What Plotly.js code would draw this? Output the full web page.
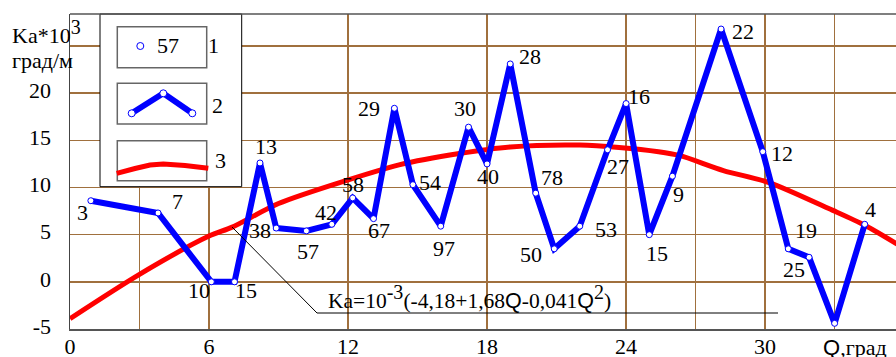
<!DOCTYPE html>
<html>
<head>
<meta charset="utf-8">
<script src="https://cdn.plot.ly/plotly-3.0.1.min.js"></script>
<style>
  html, body { margin: 0; padding: 0; background: #fff; }
  #chart { width: 896px; height: 357px; }
</style>
</head>
<body>
<div id="chart"></div>
<script>
// Measured points: angle Q (deg), coefficient Ka (x10^-3 deg/m), point numbers
const pointQ  = [0.9, 3.8, 6.1, 7.1, 8.2, 8.9, 10.2, 11.3, 12.2, 13.1,
                 14.0, 14.8, 16.0, 17.2, 18.0, 19.0, 20.1, 20.9, 22.0, 23.2,
                 24.0, 25.0, 26.0, 28.1, 29.9, 31.0, 31.9, 33.0, 34.3];
const pointKa = [8.6, 7.3, 0, 0, 12.6, 5.7, 5.4, 6.1, 8.9, 6.7,
                 18.4, 10.3, 5.9, 16.4, 12.5, 23.1, 9.4, 3.5, 5.9, 14.0,
                 18.9, 5.0, 11.2, 26.8, 13.8, 3.5, 2.6, -4.4, 6.1];
const pointNo = ['3', '7', '10', '15', '13', '38', '57', '42', '58', '67',
                 '29', '54', '97', '30', '40', '28', '78', '50', '53', '27',
                 '16', '15', '9', '22', '12', '25', '19', '', '4'];

// Regression curve Ka(Q)
const fitQ  = [0, 3, 6, 7, 9, 12, 14.2, 16.8, 19, 22, 23.7, 25.4, 26.3, 28.2, 30.2, 32.9, 34.3, 35.7];
const fitKa = [-3.9, 0.8, 4.85, 5.8, 8.3, 10.8, 12.4, 13.6, 14.3, 14.5, 14.25, 13.8, 13.4, 11.8, 10.5, 7.6, 6.0, 4.0];

// Axis ticks
const xGridVals  = [0, 3, 6, 12, 18, 24, 27, 30, 33];
const xTickText  = ['0', '', '6', '12', '18', '24', '', '30', ''];
const yGridVals  = [-5, 0, 5, 10, 15, 20, 25];
const yTickText  = ['-5', '0', '5', '10', '15', '20', ''];

// Label placement around each point, in px: [right, down]
const labelShift = [[-8,12],[19,-11],[-12,9],[11,9],[6,-16],[-16,2],[2,21],[-6,-12],[0,-13],[5,12],
                    [-25,0],[17,-2],[3,22],[-4,-19],[1,13],[20,-7],[16,-16],[-23,6],[26,3],[10,17],
                    [13,-7],[8,19],[6,18],[22,2],[19,2],[6,21],[-3,-27],[0,0],[6,-15]];

const SERIF = 'Liberation Serif';
const SANS = 'Liberation Sans';
const BLUE = '#0000ff', RED = '#ff0000', GRID = 'rgb(160,112,62)';

// plot frame in px
const PL = 70, PT = 14, PW = 826, PH = 315;
const fx = p => (p - PL) / PW;
const fy = p => (PT + PH - p) / PH;

const traces = [
  { x: fitQ, y: fitKa, type: 'scatter', mode: 'lines',
    line: { color: RED, width: 5, shape: 'spline', smoothing: 0.8 }, hoverinfo: 'skip' },
  { x: pointQ, y: pointKa, type: 'scatter', mode: 'lines+markers',
    line: { color: BLUE, width: 6 },
    marker: { size: 6, color: '#fff', line: { color: BLUE, width: 1 } }, hoverinfo: 'skip' }
];

const annotations = pointNo.map((t, i) => ({
  x: pointQ[i], y: pointKa[i], xref: 'x', yref: 'y', text: t, showarrow: false,
  xshift: labelShift[i][0], yshift: -labelShift[i][1],
  xanchor: 'center', yanchor: 'middle', font: { family: SERIF, size: 22, color: '#000' }
})).filter(a => a.text !== '');

function txt(text, px, py, anchor, size) {
  return { text: text, x: fx(px), y: fy(py), xref: 'paper', yref: 'paper', showarrow: false,
           xanchor: anchor || 'center', yanchor: 'middle',
           font: { family: SERIF, size: size || 21, color: '#000' } };
}
const big = s => '<sup><span style="font-size:20px">' + s + '</span></sup>';
const Q = '<span style="font-family:' + SANS + '">Q</span>';
// axis titles
annotations.push(txt('Ka*10' + big('3'), 46, 32, 'center', 22));
annotations.push(txt('град/м', 42.5, 60, 'center', 22));
annotations.push(txt(Q + ',град', 889, 347, 'right', 22));
// equation of the curve
annotations.push(txt('Ka=10' + big('-3') + '(-4,18+1,68' + Q + '-0,041' + Q + big('2') + ')', 326, 297, 'left', 21.5));
// key labels
annotations.push(txt('57', 168, 46, 'center', 22));
annotations.push(txt('1', 213, 46, 'center', 22));
annotations.push(txt('2', 217, 106, 'center', 22));
annotations.push(txt('3', 220, 160, 'center', 22));

function rect(x0, y0, x1, y1, col, w, fill) {
  return { type: 'rect', xref: 'paper', yref: 'paper', layer: 'above',
           x0: fx(x0), x1: fx(x1), y0: fy(y1), y1: fy(y0),
           line: { color: col, width: w }, fillcolor: fill || 'rgba(0,0,0,0)' };
}
function circ(cx, cy, r) {
  return { type: 'circle', xref: 'paper', yref: 'paper', layer: 'above',
           x0: fx(cx - r), x1: fx(cx + r), y0: fy(cy + r), y1: fy(cy - r),
           line: { color: BLUE, width: 1 }, fillcolor: '#fff' };
}
function path(pts, col, w) {
  let d = 'M' + fx(pts[0][0]) + ',' + fy(pts[0][1]);
  for (let k = 1; k < pts.length; k++) d += ' L' + fx(pts[k][0]) + ',' + fy(pts[k][1]);
  return { type: 'path', xref: 'paper', yref: 'paper', layer: 'above', path: d,
           line: { color: col, width: w } };
}

const shapes = [
  // leader from curve to equation
  path([[232, 227], [317, 313], [778, 313]], '#000', 1),
  // key frame
  rect(100, 14, 241.7, 186.7, '#000', 1, '#fff'),
  rect(117.3, 26.7, 206.7, 67.7, '#666', 1.5),
  rect(117.3, 83.3, 206.7, 124, '#666', 1.5),
  rect(117.3, 140.7, 206.7, 180.7, '#666', 1.5),
  circ(140.3, 46, 3.5),
  path([[131.7, 113.3], [163.3, 93.3], [192.3, 113.3]], BLUE, 6),
  circ(131.7, 113.3, 3.5), circ(163.3, 93.3, 3.5), circ(192.3, 113.3, 3.5),
  path([[116.7, 173.3], [135, 168.5], [150, 165], [163.3, 164], [185, 165.5], [208.3, 168.3]], RED, 5),
  // top frame line
  { type: 'line', xref: 'paper', yref: 'paper', layer: 'above', x0: 0, x1: 1, y0: 1, y1: 1,
    line: { color: '#555', width: 1.5 } }
];

const layout = {
  width: 896, height: 357,
  margin: { l: PL, r: 0, t: PT, b: 357 - PT - PH, pad: 0 },
  paper_bgcolor: '#fff', plot_bgcolor: '#fff',
  showlegend: false,
  font: { family: SERIF, size: 21, color: '#000' },
  xaxis: {
    range: [0, PW / 23.17], tickmode: 'array', tickvals: xGridVals, ticktext: xTickText,
    showgrid: true, gridcolor: GRID, gridwidth: 1.5, zeroline: false,
    showline: true, linecolor: '#555', linewidth: 1.5, mirror: false, ticks: '',
    tickfont: { family: SERIF, size: 22, color: '#000' }, ticklabelstandoff: -3
  },
  yaxis: {
    range: [-5, -5 + PH / 9.433], tickmode: 'array', tickvals: yGridVals, ticktext: yTickText,
    showgrid: true, gridcolor: GRID, gridwidth: 1.5, zeroline: false,
    showline: true, linecolor: '#444', linewidth: 1.5, mirror: false, ticks: '',
    tickfont: { family: SERIF, size: 22, color: '#000' }, ticklabelstandoff: 13, ticklabelshift: -3
  },
  annotations: annotations,
  shapes: shapes
};

Plotly.newPlot('chart', traces, layout, { staticPlot: true, displayModeBar: false });
</script>
</body>
</html>
